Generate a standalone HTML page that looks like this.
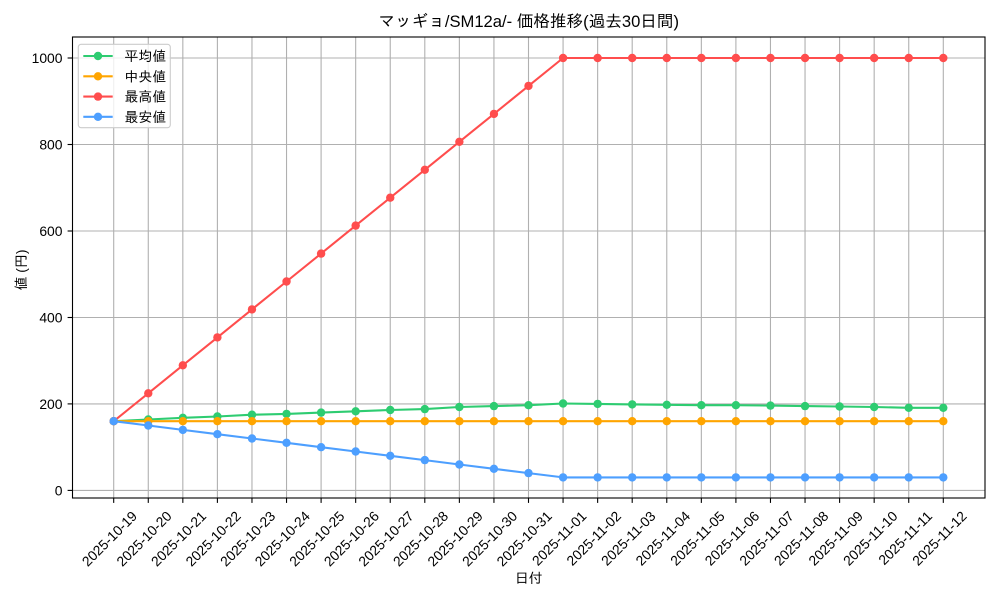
<!DOCTYPE html>
<html><head><meta charset="utf-8"><style>
html,body{margin:0;padding:0;background:#fff;}
svg{display:block;font-family:"Liberation Sans","IPAGothic","Noto Sans CJK JP",sans-serif;}
</style></head><body>
<svg width="1000" height="600" viewBox="0 0 1000 600" xmlns="http://www.w3.org/2000/svg">
<rect width="1000" height="600" fill="#fff"/>
<text x="528.75" y="27" font-size="16.6" text-anchor="middle" fill="#000">マッギョ/SM12a/- 価格推移(過去30日間)</text>
<g stroke="#b0b0b0" stroke-width="1.1">
<line x1="113.7" y1="37" x2="113.7" y2="498"/><line x1="148.27" y1="37" x2="148.27" y2="498"/><line x1="182.83" y1="37" x2="182.83" y2="498"/><line x1="217.4" y1="37" x2="217.4" y2="498"/><line x1="251.97" y1="37" x2="251.97" y2="498"/><line x1="286.53" y1="37" x2="286.53" y2="498"/><line x1="321.1" y1="37" x2="321.1" y2="498"/><line x1="355.67" y1="37" x2="355.67" y2="498"/><line x1="390.24" y1="37" x2="390.24" y2="498"/><line x1="424.8" y1="37" x2="424.8" y2="498"/><line x1="459.37" y1="37" x2="459.37" y2="498"/><line x1="493.94" y1="37" x2="493.94" y2="498"/><line x1="528.5" y1="37" x2="528.5" y2="498"/><line x1="563.07" y1="37" x2="563.07" y2="498"/><line x1="597.64" y1="37" x2="597.64" y2="498"/><line x1="632.2" y1="37" x2="632.2" y2="498"/><line x1="666.77" y1="37" x2="666.77" y2="498"/><line x1="701.34" y1="37" x2="701.34" y2="498"/><line x1="735.9" y1="37" x2="735.9" y2="498"/><line x1="770.47" y1="37" x2="770.47" y2="498"/><line x1="805.04" y1="37" x2="805.04" y2="498"/><line x1="839.6" y1="37" x2="839.6" y2="498"/><line x1="874.17" y1="37" x2="874.17" y2="498"/><line x1="908.74" y1="37" x2="908.74" y2="498"/><line x1="943.3" y1="37" x2="943.3" y2="498"/>
<line x1="72.5" y1="490.4" x2="985" y2="490.4"/><line x1="72.5" y1="403.9" x2="985" y2="403.9"/><line x1="72.5" y1="317.5" x2="985" y2="317.5"/><line x1="72.5" y1="231" x2="985" y2="231"/><line x1="72.5" y1="144.5" x2="985" y2="144.5"/><line x1="72.5" y1="58" x2="985" y2="58"/>
</g>
<!-- series -->
<g fill="none" stroke-width="2.08" stroke-linejoin="round" stroke-linecap="butt">
<polyline stroke="#2ecc71" points="113.7,421.2 148.27,419.5 182.83,417.8 217.4,416.5 251.97,414.7 286.53,413.9 321.1,412.6 355.67,411.3 390.24,410 424.8,409.1 459.37,407 493.94,406.1 528.5,405.2 563.07,403.5 597.64,403.9 632.2,404.4 666.77,404.8 701.34,405.2 735.9,405.2 770.47,405.6 805.04,406.1 839.6,406.5 874.17,407 908.74,407.8 943.3,407.8"/>
</g>
<g fill="#2ecc71">
<circle cx="113.7" cy="421.2" r="4.2"/><circle cx="148.27" cy="419.5" r="4.2"/><circle cx="182.83" cy="417.8" r="4.2"/><circle cx="217.4" cy="416.5" r="4.2"/><circle cx="251.97" cy="414.7" r="4.2"/><circle cx="286.53" cy="413.9" r="4.2"/><circle cx="321.1" cy="412.6" r="4.2"/><circle cx="355.67" cy="411.3" r="4.2"/><circle cx="390.24" cy="410" r="4.2"/><circle cx="424.8" cy="409.1" r="4.2"/><circle cx="459.37" cy="407" r="4.2"/><circle cx="493.94" cy="406.1" r="4.2"/><circle cx="528.5" cy="405.2" r="4.2"/><circle cx="563.07" cy="403.5" r="4.2"/><circle cx="597.64" cy="403.9" r="4.2"/><circle cx="632.2" cy="404.4" r="4.2"/><circle cx="666.77" cy="404.8" r="4.2"/><circle cx="701.34" cy="405.2" r="4.2"/><circle cx="735.9" cy="405.2" r="4.2"/><circle cx="770.47" cy="405.6" r="4.2"/><circle cx="805.04" cy="406.1" r="4.2"/><circle cx="839.6" cy="406.5" r="4.2"/><circle cx="874.17" cy="407" r="4.2"/><circle cx="908.74" cy="407.8" r="4.2"/><circle cx="943.3" cy="407.8" r="4.2"/>
</g>
<line x1="113.7" y1="421.2" x2="943.3" y2="421.2" stroke="#ffa500" stroke-width="2.08"/>
<g fill="#ffa500">
<circle cx="113.7" cy="421.2" r="4.2"/><circle cx="148.27" cy="421.2" r="4.2"/><circle cx="182.83" cy="421.2" r="4.2"/><circle cx="217.4" cy="421.2" r="4.2"/><circle cx="251.97" cy="421.2" r="4.2"/><circle cx="286.53" cy="421.2" r="4.2"/><circle cx="321.1" cy="421.2" r="4.2"/><circle cx="355.67" cy="421.2" r="4.2"/><circle cx="390.24" cy="421.2" r="4.2"/><circle cx="424.8" cy="421.2" r="4.2"/><circle cx="459.37" cy="421.2" r="4.2"/><circle cx="493.94" cy="421.2" r="4.2"/><circle cx="528.5" cy="421.2" r="4.2"/><circle cx="563.07" cy="421.2" r="4.2"/><circle cx="597.64" cy="421.2" r="4.2"/><circle cx="632.2" cy="421.2" r="4.2"/><circle cx="666.77" cy="421.2" r="4.2"/><circle cx="701.34" cy="421.2" r="4.2"/><circle cx="735.9" cy="421.2" r="4.2"/><circle cx="770.47" cy="421.2" r="4.2"/><circle cx="805.04" cy="421.2" r="4.2"/><circle cx="839.6" cy="421.2" r="4.2"/><circle cx="874.17" cy="421.2" r="4.2"/><circle cx="908.74" cy="421.2" r="4.2"/><circle cx="943.3" cy="421.2" r="4.2"/>
</g>
<polyline fill="none" stroke="#ff4d4d" stroke-width="2.08" stroke-linejoin="round" points="113.7,421.2 148.27,393.3 182.83,365.3 217.4,337.4 251.97,309.4 286.53,281.5 321.1,253.6 355.67,225.6 390.24,197.7 424.8,169.8 459.37,141.8 493.94,113.9 528.5,85.9 563.07,58 943.3,58"/>
<g fill="#ff4d4d">
<circle cx="113.7" cy="421.2" r="4.2"/><circle cx="148.27" cy="393.3" r="4.2"/><circle cx="182.83" cy="365.3" r="4.2"/><circle cx="217.4" cy="337.4" r="4.2"/><circle cx="251.97" cy="309.4" r="4.2"/><circle cx="286.53" cy="281.5" r="4.2"/><circle cx="321.1" cy="253.6" r="4.2"/><circle cx="355.67" cy="225.6" r="4.2"/><circle cx="390.24" cy="197.7" r="4.2"/><circle cx="424.8" cy="169.8" r="4.2"/><circle cx="459.37" cy="141.8" r="4.2"/><circle cx="493.94" cy="113.9" r="4.2"/><circle cx="528.5" cy="85.9" r="4.2"/><circle cx="563.07" cy="58" r="4.2"/><circle cx="597.64" cy="58" r="4.2"/><circle cx="632.2" cy="58" r="4.2"/><circle cx="666.77" cy="58" r="4.2"/><circle cx="701.34" cy="58" r="4.2"/><circle cx="735.9" cy="58" r="4.2"/><circle cx="770.47" cy="58" r="4.2"/><circle cx="805.04" cy="58" r="4.2"/><circle cx="839.6" cy="58" r="4.2"/><circle cx="874.17" cy="58" r="4.2"/><circle cx="908.74" cy="58" r="4.2"/><circle cx="943.3" cy="58" r="4.2"/>
</g>
<polyline fill="none" stroke="#4d9fff" stroke-width="2.08" stroke-linejoin="round" points="113.7,421.2 148.27,425.5 182.83,429.9 217.4,434.2 251.97,438.5 286.53,442.8 321.1,447.2 355.67,451.5 390.24,455.8 424.8,460.1 459.37,464.5 493.94,468.8 528.5,473.1 563.07,477.4 943.3,477.4"/>
<g fill="#4d9fff">
<circle cx="113.7" cy="421.2" r="4.2"/><circle cx="148.27" cy="425.5" r="4.2"/><circle cx="182.83" cy="429.9" r="4.2"/><circle cx="217.4" cy="434.2" r="4.2"/><circle cx="251.97" cy="438.5" r="4.2"/><circle cx="286.53" cy="442.8" r="4.2"/><circle cx="321.1" cy="447.2" r="4.2"/><circle cx="355.67" cy="451.5" r="4.2"/><circle cx="390.24" cy="455.8" r="4.2"/><circle cx="424.8" cy="460.1" r="4.2"/><circle cx="459.37" cy="464.5" r="4.2"/><circle cx="493.94" cy="468.8" r="4.2"/><circle cx="528.5" cy="473.1" r="4.2"/><circle cx="563.07" cy="477.4" r="4.2"/><circle cx="597.64" cy="477.4" r="4.2"/><circle cx="632.2" cy="477.4" r="4.2"/><circle cx="666.77" cy="477.4" r="4.2"/><circle cx="701.34" cy="477.4" r="4.2"/><circle cx="735.9" cy="477.4" r="4.2"/><circle cx="770.47" cy="477.4" r="4.2"/><circle cx="805.04" cy="477.4" r="4.2"/><circle cx="839.6" cy="477.4" r="4.2"/><circle cx="874.17" cy="477.4" r="4.2"/><circle cx="908.74" cy="477.4" r="4.2"/><circle cx="943.3" cy="477.4" r="4.2"/>
</g>
<!-- spines -->
<rect x="72.5" y="37" width="912.5" height="461" fill="none" stroke="#000" stroke-width="1.1"/>
<!-- ticks -->
<g stroke="#000" stroke-width="1.1">
<line x1="113.7" y1="498" x2="113.7" y2="502.9"/><line x1="148.27" y1="498" x2="148.27" y2="502.9"/><line x1="182.83" y1="498" x2="182.83" y2="502.9"/><line x1="217.4" y1="498" x2="217.4" y2="502.9"/><line x1="251.97" y1="498" x2="251.97" y2="502.9"/><line x1="286.53" y1="498" x2="286.53" y2="502.9"/><line x1="321.1" y1="498" x2="321.1" y2="502.9"/><line x1="355.67" y1="498" x2="355.67" y2="502.9"/><line x1="390.24" y1="498" x2="390.24" y2="502.9"/><line x1="424.8" y1="498" x2="424.8" y2="502.9"/><line x1="459.37" y1="498" x2="459.37" y2="502.9"/><line x1="493.94" y1="498" x2="493.94" y2="502.9"/><line x1="528.5" y1="498" x2="528.5" y2="502.9"/><line x1="563.07" y1="498" x2="563.07" y2="502.9"/><line x1="597.64" y1="498" x2="597.64" y2="502.9"/><line x1="632.2" y1="498" x2="632.2" y2="502.9"/><line x1="666.77" y1="498" x2="666.77" y2="502.9"/><line x1="701.34" y1="498" x2="701.34" y2="502.9"/><line x1="735.9" y1="498" x2="735.9" y2="502.9"/><line x1="770.47" y1="498" x2="770.47" y2="502.9"/><line x1="805.04" y1="498" x2="805.04" y2="502.9"/><line x1="839.6" y1="498" x2="839.6" y2="502.9"/><line x1="874.17" y1="498" x2="874.17" y2="502.9"/><line x1="908.74" y1="498" x2="908.74" y2="502.9"/><line x1="943.3" y1="498" x2="943.3" y2="502.9"/>
<line x1="67.6" y1="490.4" x2="72.5" y2="490.4"/><line x1="67.6" y1="403.9" x2="72.5" y2="403.9"/><line x1="67.6" y1="317.5" x2="72.5" y2="317.5"/><line x1="67.6" y1="231" x2="72.5" y2="231"/><line x1="67.6" y1="144.5" x2="72.5" y2="144.5"/><line x1="67.6" y1="58" x2="72.5" y2="58"/>
</g>
<g font-size="13.9" fill="#000" text-anchor="end">
<text x="62.5" y="495.3">0</text><text x="62.5" y="408.8">200</text><text x="62.5" y="322.4">400</text><text x="62.5" y="235.9">600</text><text x="62.5" y="149.4">800</text><text x="62.5" y="62.9">1000</text>
</g>
<g font-size="13.9" fill="#000" text-anchor="end">
<text transform="translate(138,517) rotate(-45)">2025-10-19</text>
<text transform="translate(172.57,517) rotate(-45)">2025-10-20</text>
<text transform="translate(207.13,517) rotate(-45)">2025-10-21</text>
<text transform="translate(241.7,517) rotate(-45)">2025-10-22</text>
<text transform="translate(276.27,517) rotate(-45)">2025-10-23</text>
<text transform="translate(310.83,517) rotate(-45)">2025-10-24</text>
<text transform="translate(345.4,517) rotate(-45)">2025-10-25</text>
<text transform="translate(379.97,517) rotate(-45)">2025-10-26</text>
<text transform="translate(414.54,517) rotate(-45)">2025-10-27</text>
<text transform="translate(449.1,517) rotate(-45)">2025-10-28</text>
<text transform="translate(483.67,517) rotate(-45)">2025-10-29</text>
<text transform="translate(518.24,517) rotate(-45)">2025-10-30</text>
<text transform="translate(552.8,517) rotate(-45)">2025-10-31</text>
<text transform="translate(587.37,517) rotate(-45)">2025-11-01</text>
<text transform="translate(621.94,517) rotate(-45)">2025-11-02</text>
<text transform="translate(656.5,517) rotate(-45)">2025-11-03</text>
<text transform="translate(691.07,517) rotate(-45)">2025-11-04</text>
<text transform="translate(725.64,517) rotate(-45)">2025-11-05</text>
<text transform="translate(760.2,517) rotate(-45)">2025-11-06</text>
<text transform="translate(794.77,517) rotate(-45)">2025-11-07</text>
<text transform="translate(829.34,517) rotate(-45)">2025-11-08</text>
<text transform="translate(863.9,517) rotate(-45)">2025-11-09</text>
<text transform="translate(898.47,517) rotate(-45)">2025-11-10</text>
<text transform="translate(933.04,517) rotate(-45)">2025-11-11</text>
<text transform="translate(967.6,517) rotate(-45)">2025-11-12</text>
</g>
<text x="528.75" y="583" font-size="13.9" text-anchor="middle" fill="#000">日付</text>
<text transform="translate(26,270) rotate(-90)" font-size="13.9" text-anchor="middle" fill="#000">値 (円)</text>
<!-- legend -->
<rect x="78.3" y="44.3" width="92" height="83.4" rx="2.8" fill="#fff" fill-opacity="0.8" stroke="#cccccc" stroke-width="1.1"/>
<g stroke-width="2.08">
<line x1="83.3" y1="56" x2="112.7" y2="56" stroke="#2ecc71"/>
<line x1="83.3" y1="76.3" x2="112.7" y2="76.3" stroke="#ffa500"/>
<line x1="83.3" y1="96.6" x2="112.7" y2="96.6" stroke="#ff4d4d"/>
<line x1="83.3" y1="116.8" x2="112.7" y2="116.8" stroke="#4d9fff"/>
</g>
<circle cx="98" cy="56" r="4.2" fill="#2ecc71"/>
<circle cx="98" cy="76.3" r="4.2" fill="#ffa500"/>
<circle cx="98" cy="96.6" r="4.2" fill="#ff4d4d"/>
<circle cx="98" cy="116.8" r="4.2" fill="#4d9fff"/>
<g font-size="13.9" fill="#000">
<text x="124.5" y="61">平均値</text>
<text x="124.5" y="81.3">中央値</text>
<text x="124.5" y="101.6">最高値</text>
<text x="124.5" y="121.8">最安値</text>
</g>
</svg>
</body></html>
